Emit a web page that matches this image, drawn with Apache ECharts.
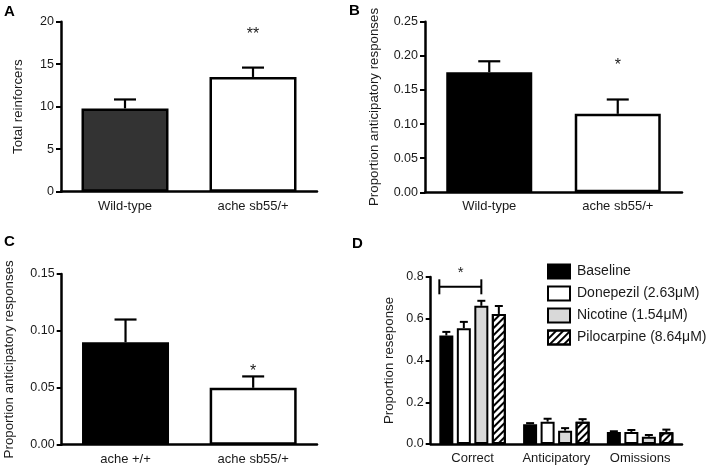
<!DOCTYPE html>
<html><head><meta charset="utf-8">
<script src="https://cdn.jsdelivr.net/npm/echarts@6/dist/echarts.min.js"></script>
<style>html,body{margin:0;padding:0;background:#fff}#c{width:708px;height:468px}</style>
</head><body><div id="c"></div>
<script>
// ---------- data ----------
const catsA = ['Wild-type', 'ache sb55/+'];
const meanA = [9.8, 13.5];
const semA = [1.05, 1.1];
const ticksA = [0, 5, 10, 15, 20];
const starsA = [[1, 18.5, '**']];

const catsB = ['Wild-type', 'ache sb55/+'];
const meanB = [0.176, 0.115];
const semB = [0.016, 0.021];
const ticksB = [0, 0.05, 0.10, 0.15, 0.20, 0.25];
const starsB = [[1, 0.186, '*']];

const catsC = ['ache +/+', 'ache sb55/+'];
const meanC = [0.09, 0.05];
const semC = [0.02, 0.01];
const ticksC = [0, 0.05, 0.10, 0.15];
const starsC = [[1, 0.064, '*']];

const catsD = ['Correct', 'Anticipatory', 'Omissions'];
const drugsD = ['Baseline', 'Donepezil (2.63μM)', 'Nicotine (1.54μM)', 'Pilocarpine (8.64μM)'];
const meanBaseline = [0.52, 0.095, 0.058];
const semBaseline = [0.017, 0.005, 0.003];
const meanDonepezil = [0.555, 0.107, 0.058];
const semDonepezil = [0.03, 0.014, 0.009];
const meanNicotine = [0.662, 0.064, 0.035];
const semNicotine = [0.024, 0.012, 0.008];
const meanPilocarpine = [0.623, 0.107, 0.056];
const semPilocarpine = [0.038, 0.012, 0.013];
const ticksD = [0, 0.2, 0.4, 0.6, 0.8];
const bracketD = [[0, 0.753, 0, 2]]; // category, y, from drug, to drug
const starsD = [[0, 0.82, '*']];

// ---------- style ----------
const FONT = 'Liberation Sans, Arial, Helvetica, sans-serif';
const TXT = '#1a1a1a';
const AX = 2.5;
const D_BAR_W = 14, D_GAP = 3.5;
function dOffset(i) { const tot = 4 * D_BAR_W + 3 * D_GAP; return -tot / 2 + D_BAR_W / 2 + i * (D_BAR_W + D_GAP); }

const grids = [
  { left: 61, right: 391, top: 21.7, bottom: 276.3 },
  { left: 425, right: 26, top: 21.7, bottom: 275.7 },
  { left: 61.7, right: 391, top: 274, bottom: 23.3 },
  { left: 430.7, right: 26, top: 277, bottom: 24 }
];

function xAxis(gi, cats) {
  return {
    type: 'category', gridIndex: gi, data: cats,
    axisLine: { lineStyle: { color: '#000', width: AX } },
    axisTick: { alignWithLabel: true, length: 5, lineStyle: { color: '#000', width: 2 } },
    axisLabel: { color: TXT, fontFamily: FONT, fontSize: 13, margin: 8, interval: 0 }
  };
}
function yAxis(gi, ticks, name, gap, dec) {
  return {
    type: 'value', gridIndex: gi, min: ticks[0], max: ticks[ticks.length - 1],
    interval: ticks[1] - ticks[0],
    name: name, nameLocation: 'middle', nameGap: gap,
    nameTextStyle: { color: TXT, fontFamily: FONT, fontSize: 13.3 },
    splitLine: { show: false },
    axisLine: { show: true, lineStyle: { color: '#000', width: AX } },
    axisTick: { show: true, inside: false, length: 5, lineStyle: { color: '#000', width: 2 } },
    axisLabel: { color: TXT, fontFamily: FONT, fontSize: 12.5, margin: 7,
      formatter: v => dec ? v.toFixed(dec) : String(v) }
  };
}

function errSeries(gi, means, sems, offset, capW, lw) {
  return {
    type: 'custom', xAxisIndex: gi, yAxisIndex: gi, z: 1, silent: true,
    data: means.map((m, i) => [i, m, sems[i]]),
    renderItem: function (params, api) {
      const p0 = api.coord([api.value(0), api.value(1)]);
      const p1 = api.coord([api.value(0), api.value(1) + api.value(2)]);
      const x = p0[0] + offset;
      return { type: 'group', children: [
        { type: 'line', shape: { x1: x, y1: p0[1], x2: x, y2: p1[1] }, style: { stroke: '#000', lineWidth: lw } },
        { type: 'line', shape: { x1: x - capW / 2, y1: p1[1], x2: x + capW / 2, y2: p1[1] }, style: { stroke: '#000', lineWidth: lw } }
      ] };
    }
  };
}
function starSeries(gi, stars, dx, size) {
  return {
    type: 'custom', xAxisIndex: gi, yAxisIndex: gi, z: 5, silent: true,
    data: stars.map(s => [s[0], s[1], s[2]]),
    renderItem: function (params, api) {
      const p = api.coord([api.value(0), api.value(1)]);
      return { type: 'text', x: p[0] + (dx || 0), y: p[1],
        style: { text: stars[params.dataIndex][2], fill: TXT, font: (size || 16) + 'px ' + FONT, align: 'center', verticalAlign: 'middle' } };
    }
  };
}
function barSeries(gi, name, data, color, width, extra) {
  return Object.assign({
    type: 'bar', name: name, xAxisIndex: gi, yAxisIndex: gi, data: data, barWidth: width, z: 2,
    itemStyle: { color: color, borderColor: '#000', borderWidth: 2.5 }
  }, extra || {});
}

const hatch = { symbol: 'rect', symbolSize: 1, dashArrayX: [1, 0], dashArrayY: [2, 3], rotation: -Math.PI / 4, color: '#000' };

const drugMeans = [meanBaseline, meanDonepezil, meanNicotine, meanPilocarpine];
const drugSems = [semBaseline, semDonepezil, semNicotine, semPilocarpine];
const drugColors = ['#000', '#fff', '#d9d9d9', '#fff'];

const series = [
  errSeries(0, meanA, semA, 0, 22, 2.2),
  { type: 'bar', xAxisIndex: 0, yAxisIndex: 0, barWidth: 87, z: 2,
    data: meanA.map((v, i) => ({ value: v, itemStyle: { color: i === 0 ? '#333' : '#fff', borderColor: '#000', borderWidth: 2.5 } })) },
  starSeries(0, starsA),
  errSeries(1, meanB, semB, 0, 22, 2.2),
  { type: 'bar', xAxisIndex: 1, yAxisIndex: 1, barWidth: 86, z: 2,
    data: meanB.map((v, i) => ({ value: v, itemStyle: { color: i === 0 ? '#000' : '#fff', borderColor: '#000', borderWidth: 2.5 } })) },
  starSeries(1, starsB),
  errSeries(2, meanC, semC, 0, 22, 2.2),
  { type: 'bar', xAxisIndex: 2, yAxisIndex: 2, barWidth: 87, z: 2,
    data: meanC.map((v, i) => ({ value: v, itemStyle: { color: i === 0 ? '#000' : '#fff', borderColor: '#000', borderWidth: 2.5 } })) },
  starSeries(2, starsC)
];
drugsD.forEach((d, i) => {
  series.push(errSeries(3, drugMeans[i], drugSems[i], dOffset(i), 8, 2));
});
drugsD.forEach((d, i) => {
  const s = barSeries(3, d, drugMeans[i], drugColors[i], D_BAR_W, { barGap: (D_GAP / D_BAR_W * 100) + '%' });
  s.itemStyle.borderWidth = 2;
  if (i === 3) s.itemStyle.decal = hatch;
  series.push(s);
});
series.push({
  type: 'custom', xAxisIndex: 3, yAxisIndex: 3, z: 5, silent: true,
  data: bracketD,
  renderItem: function (params, api) {
    const b = bracketD[params.dataIndex];
    const p = api.coord([b[0], b[1]]);
    const x1 = p[0] + dOffset(b[2]) - D_BAR_W / 2, x2 = p[0] + dOffset(b[3]);
    const st = { stroke: '#000', lineWidth: 2 };
    return { type: 'group', children: [
      { type: 'line', shape: { x1: x1, y1: p[1], x2: x2, y2: p[1] }, style: st },
      { type: 'line', shape: { x1: x1, y1: p[1] - 7.5, x2: x1, y2: p[1] + 7.5 }, style: st },
      { type: 'line', shape: { x1: x2, y1: p[1] - 7.5, x2: x2, y2: p[1] + 7.5 }, style: st }
    ] };
  }
});
series.push(starSeries(3, starsD, -12, 15));

const option = {
  animation: false,
  backgroundColor: '#fff',
  title: [
    { text: 'A', left: 4, top: 4, padding: 0, textStyle: { fontFamily: FONT, fontWeight: 'bold', fontSize: 15, color: '#000' } },
    { text: 'B', left: 349, top: 3, padding: 0, textStyle: { fontFamily: FONT, fontWeight: 'bold', fontSize: 15, color: '#000' } },
    { text: 'C', left: 4, top: 234, padding: 0, textStyle: { fontFamily: FONT, fontWeight: 'bold', fontSize: 15, color: '#000' } },
    { text: 'D', left: 352, top: 236, padding: 0, textStyle: { fontFamily: FONT, fontWeight: 'bold', fontSize: 15, color: '#000' } }
  ],
  legend: {
    data: drugsD, orient: 'vertical', left: 547, top: 263.5, padding: 0,
    icon: 'rect', itemWidth: 22, itemHeight: 14, itemGap: 6,
    textStyle: { color: TXT, fontFamily: FONT, fontSize: 14, padding: [0, 0, 0, 2] },
    selectedMode: false
  },
  grid: grids,
  xAxis: [xAxis(0, catsA), xAxis(1, catsB), xAxis(2, catsC), xAxis(3, catsD)],
  yAxis: [
    yAxis(0, ticksA, 'Total reinforcers', 36, 0),
    yAxis(1, ticksB, 'Proportion anticipatory responses', 44, 2),
    yAxis(2, ticksC, 'Proportion anticipatory responses', 46, 2),
    yAxis(3, ticksD, 'Proportion reseponse', 35, 1)
  ],
  series: series
};
const chart = echarts.init(document.getElementById('c'), null, { renderer: 'canvas' });
chart.setOption(option);
</script></body></html>
